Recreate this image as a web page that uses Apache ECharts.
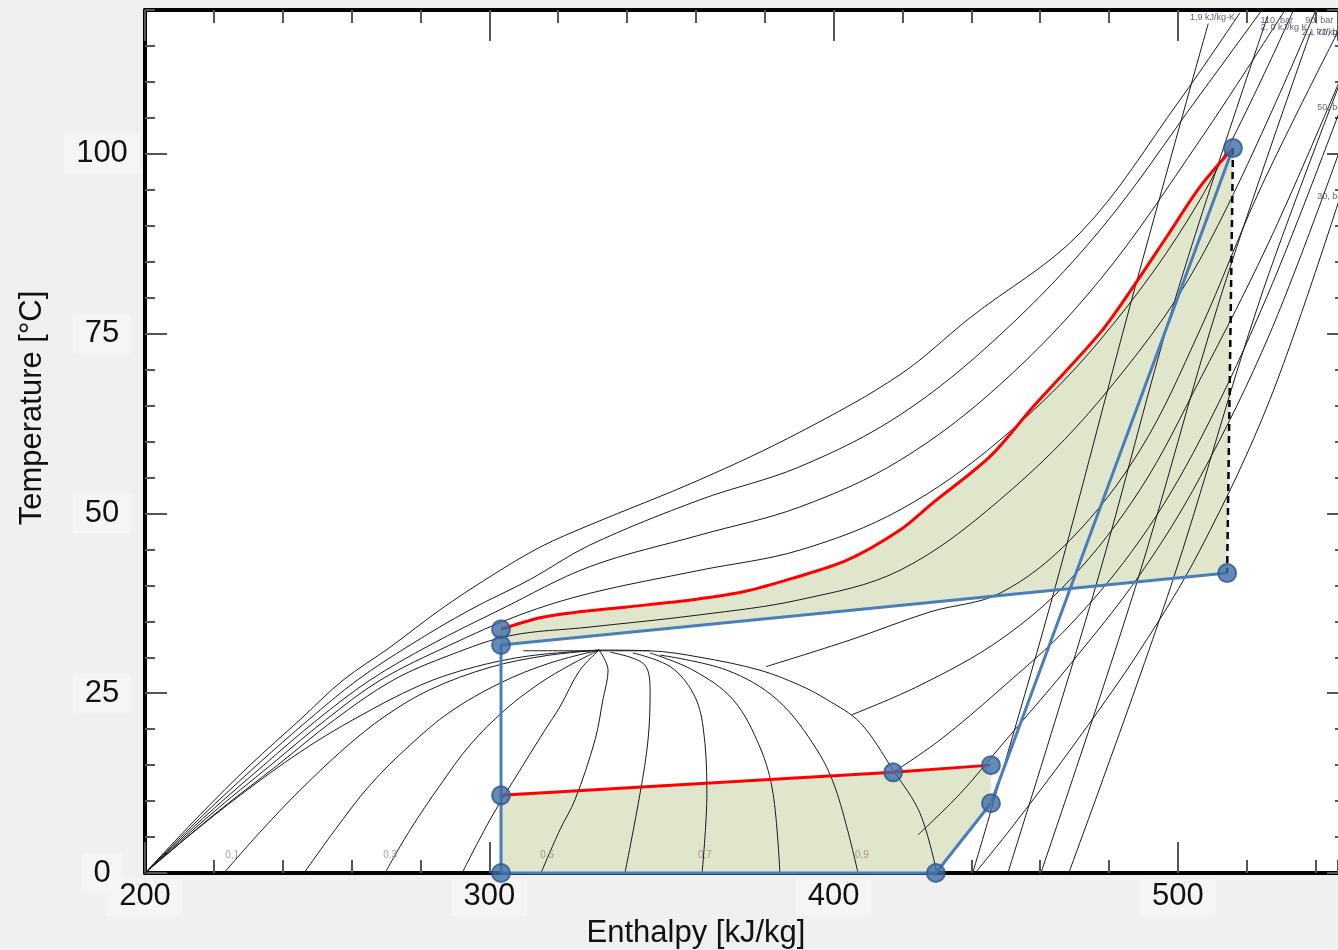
<!DOCTYPE html>
<html><head><meta charset="utf-8">
<script src="https://cdn.jsdelivr.net/npm/echarts/dist/echarts.min.js"></script>
<style>html,body{margin:0;padding:0;background:#f0f0f0}#c{width:1338px;height:950px}</style>
</head><body><div id="c"></div>
<script>
// ---------- axis ticks ----------
const xMin = 200, xMax = 546.5, xMajor = 100, xMinor = 20;
const yMin = 0, yMax = 120, yMajor = 25, yMinor = 5;

// ---------- saturation dome (h kJ/kg, T °C) ----------
const satLiquid = [[200,0],[213.1,5.3],[227.6,10.8],[245.0,16.8],[260.4,21.3],[279.9,26.1],[295.3,28.6],[311.8,30.2],[331.9,31.0]];
const satVapor = [[331.9,31.0],[346.7,30.9],[361.2,30.0],[378.6,28.2],[390.2,26.1],[398.1,24.1],[407.7,20.9],[417.3,14.3],[425.1,8.3],[430.0,0]];
const domeTop = [[309.8,30.9],[346.7,30.9]];

// ---------- quality lines ----------
const q01 = [[222.9,0],[234.0,6.0],[245.0,11.5],[258.1,17.4],[269.7,21.8],[282.8,25.5],[300.2,28.6],[316.2,30.2],[331.9,31.0]];
const q02 = [[246.2,0],[255.2,6.0],[265.3,12.2],[277.0,17.8],[288.6,22.4],[303.1,26.4],[317.6,29.2],[331.9,31.0]];
const q03 = [[269.7,0],[277.0,6.0],[285.7,12.2],[294.4,17.8],[304.6,22.7],[314.7,26.4],[323.4,28.9],[331.9,31.0]];
const q04 = [[292.1,0],[300.2,7.4],[308.9,14.3],[316.2,19.9],[320.5,23.1],[326.3,28.2],[331.9,31.0]];
const q05 = [[315.0,0],[320.5,6.0],[324.9,10.2],[330.7,18.5],[333.0,24.1],[334.5,28.2],[331.9,31.0]];
const q06 = [[339.4,0],[343.8,11.1],[346.1,18.5],[346.7,25.0],[345.2,28.9],[335.1,30.7]];
const q07 = [[361.8,0],[363.2,11.1],[362.1,20.3],[359.2,25.0],[352.5,28.7],[341.7,30.6]];
const q08 = [[384.4,0],[382.4,11.1],[378.6,17.5],[370.8,24.1],[359.2,28.2],[346.7,30.6]];
const q09 = [[407.1,0],[401.0,11.1],[395.2,17.1],[383.6,24.1],[369.0,28.2],[349.6,30.3]];

// ---------- isobars (bar) ----------
const p120 = [[200,0],[216.0,8.1],[230.5,15.0],[245.0,21.3],[257.5,26.8],[271.2,31.4],[285.7,36.6],[300.2,41.2],[314.7,45.3],[329.2,48.4],[361.2,54.7],[390.2,61.3],[419.3,69.3],[439.6,77.2],[471.6,89.0],[500.6,107.5],[518.0,119.6]];
const p110 = [[200,0],[217.0,8.1],[232.5,15.0],[247.5,21.3],[261.6,26.8],[277.0,31.7],[294.4,36.6],[311.8,40.8],[329.2,45.6],[361.2,51.9],[390.2,56.5],[419.3,63.7],[448.3,74.8],[477.4,89.4],[506.4,108.2],[524.4,120]];
const p100 = [[200,0],[218.0,8.1],[234.5,15.0],[250.0,21.3],[265.3,26.8],[282.8,31.7],[303.1,36.6],[329.2,42.6],[361.2,47.0],[390.2,50.9],[419.3,57.4],[448.3,67.9],[477.4,82.5],[506.4,101.9],[531.1,120]];
const p90 = [[200,0],[219.0,8.1],[236.5,15.0],[252.5,21.3],[268.3,26.8],[288.6,31.7],[308.9,35.9],[329.2,38.9],[361.2,42.1],[390.2,44.9],[419.3,50.5],[448.3,60.2],[477.4,74.1],[506.4,93.6],[533.6,120]];
const p80 = [[200,0],[220.0,8.1],[238.5,15.0],[255.0,21.3],[272.0,26.8],[288.6,30.3],[306.0,33.0],[329.2,34.2],[361.2,35.9],[390.2,38.0],[419.3,42.1],[448.3,51.9],[477.4,65.8],[506.4,85.3],[540.1,120]];
const p70 = [[380.4,28.7],[404.8,32.4],[428.0,36.3],[448.3,38.9],[468.7,46.3],[489.0,58.8],[506.4,75.5],[523.8,95.0],[546.5,117.0]];
const p60 = [[405.3,22.0],[425.1,26.1],[448.3,32.4],[468.7,40.8],[489.0,53.3],[506.4,68.6],[526.7,88.0],[547.1,110.3]];
const p50 = [[417.3,14.0],[430.9,18.5],[448.3,25.5],[468.7,34.5],[489.0,46.3],[506.4,60.2],[526.7,81.1],[547.1,106.1]];
const p40 = [[424.5,5.3],[436.7,11.0],[448.3,17.5],[468.7,29.0],[489.0,41.5],[506.4,55.0],[526.7,75.0],[547.1,100.6]];
const p30 = [[441.1,0],[451.2,6.0],[468.7,17.1],[489.0,31.0],[506.4,44.9],[526.7,65.8],[547.1,94.0]];

// ---------- isentropes (kJ/kg-K) ----------
const s19 = [[440.4,0],[450.0,15.7],[464.4,39.8],[486.8,80.1],[508.8,118.1]];
const s20 = [[450.6,0],[476.1,39.8],[499.4,80.1],[526.1,119.2]];
const s21 = [[460.2,0],[487.7,39.8],[512.4,80.1],[538.6,117.0]];
const s22 = [[468.3,0],[497.9,39.8],[524.1,80.1],[548.8,112.0]];

// ---------- cycle ----------
const cycleNames = ['P1','P2','P3','P4','P5','P6','P7','P8','P9','P10'];
const cycleH = [516.0,514.3,303.4,303.4,303.4,303.4,429.7,445.7,445.7,417.3];
const cycleT = [100.8,41.7,31.7,33.9,10.8,0,0,9.7,15.0,14.0];
const gasCooler = [[303.4,33.9],[314.7,35.5],[324.3,36.2],[340.0,37.0],[359.2,38.0],[373.7,39.1],[388.2,41.0],[403.9,43.5],[419.3,47.7],[428.9,51.5],[445.4,57.9],[457.9,64.8],[477.4,75.1],[487.0,81.5],[496.8,88.5],[506.4,95.4],[516.0,100.8]];

// ---------- labels ----------
const qualityLabels = [[225.3,2.5,'0,1'],[271.2,2.5,'0,3'],[316.8,2.5,'0,5'],[362.6,2.5,'0,7'],[408.2,2.5,'0,9']];
const lineLabels = [[503.5,119.0,'1,9 kJ/kg-K'],[524.0,118.6,'110, bar'],[524.0,117.6,'2, 0 kJ/kg K'],[537.0,118.6,'90, bar'],[536.0,116.9,'2,1 kJ/kg K'],[540.5,116.9,'70, bar'],[540.5,106.4,'50, bar'],[540.5,94.0,'30, bar']];

const pt = i => [cycleH[i], cycleT[i]];
const bluePath = [1,2,4,5,6,7,0].map(pt);
const evapLine = [4,9,8].map(pt);
const upperFill = gasCooler.concat([pt(1), pt(2)]);
const lowerFill = [4,9,8,7,6,5].map(pt);

const thin = {color:'#1a1a1a', width:1};
function bg(d){ return {type:'line', data:d, symbol:'none', smooth:0.35, lineStyle:thin, z:3, silent:true, animation:false}; }
function poly(points){
  return {type:'custom', z:1, silent:true, animation:false, clip:true,
    data:[points[0]],
    renderItem:(params, api)=>({type:'polygon', shape:{points:points.map(p=>api.coord(p))}, style:{fill:'#dfe6cb'}})};
}

const font = 'Liberation Sans, Arial, sans-serif';
function xa(pos, interval, len, labels, line){
  return {type:'value', min:xMin, max:xMax, interval, position:pos, gridIndex:0,
    axisLine:{show:line, onZero:false, lineStyle:{color:'#000', width:4}},
    axisTick:{show:true, inside:true, length:len, lineStyle:{color:'#555', width:2}},
    axisLabel:{show:labels, fontSize:31, color:'#111', fontFamily:font, margin:6, showMaxLabel:false,
      backgroundColor:'#f5f5f5', padding:[2,12,4,12]},
    splitLine:{show:false}};
}
function ya(pos, interval, len, labels, line){
  return {type:'value', min:yMin, max:yMax, interval, position:pos, gridIndex:0,
    axisLine:{show:line, onZero:false, lineStyle:{color:'#000', width:4}},
    axisTick:{show:true, inside:true, length:len, lineStyle:{color:'#555', width:2}},
    axisLabel:{show:labels, fontSize:31, color:'#111', fontFamily:font, margin:43, align:'center', showMaxLabel:false,
      backgroundColor:'#f5f5f5', padding:[4,12,4,12]},
    splitLine:{show:false}};
}

const chart = echarts.init(document.getElementById('c'), null, {renderer:'canvas'});
const series = [
  poly(upperFill), poly(lowerFill),
  ...[satLiquid,satVapor,domeTop,q01,q02,q03,q04,q05,q06,q07,q08,q09,p120,p110,p100,p90,p80,p70,p60,p50,p40,p30,s19,s20,s21,s22].map(bg),
  {type:'scatter', data:qualityLabels, symbolSize:0, silent:true, z:4, animation:false,
    label:{show:true, formatter:p=>p.data[2], fontSize:10, color:'#9a8674', fontFamily:font}},
  {type:'scatter', data:lineLabels, symbolSize:0, silent:true, z:4, animation:false,
    label:{show:true, position:'inside', align:'left', formatter:p=>p.data[2], fontSize:9, color:'#3a3a5a', fontFamily:font}},
  {type:'line', data:gasCooler, symbol:'none', smooth:0.3, lineStyle:{color:'#ff0000', width:3}, z:6, animation:false, silent:true},
  {type:'line', data:evapLine, symbol:'none', lineStyle:{color:'#ff0000', width:3}, z:6, animation:false, silent:true},
  {type:'line', data:bluePath, symbol:'none', lineStyle:{color:'#4a7ebb', width:3}, z:5, animation:false, silent:true, clip:false},
  {type:'line', data:[pt(0),pt(1)], symbol:'none', lineStyle:{color:'#000', width:2.5, type:[7,5]}, z:6, animation:false, silent:true},
  {type:'line', data:[pt(8),pt(7)], symbol:'none', lineStyle:{color:'#eeeeee', width:2.5, type:[5,4]}, z:6, animation:false, silent:true},
  {type:'scatter', data:cycleNames.map((n,i)=>pt(i)), symbolSize:18, z:7, clip:false, animation:false, silent:true,
    itemStyle:{color:'#3e6ea8', borderColor:'#2d578c', borderWidth:2}}
];

chart.setOption({
  backgroundColor:'#f0f0f0',
  animation:false,
  grid:{left:145, right:0, top:10, bottom:77, show:true, backgroundColor:'#ffffff', borderWidth:0},
  xAxis:[xa('bottom',xMajor,31,true,true), xa('bottom',xMinor,13,false,false), xa('top',xMajor,31,false,true), xa('top',xMinor,13,false,false)],
  yAxis:[ya('left',yMajor,22,true,true), ya('left',yMinor,10,false,false), ya('right',yMajor,11,false,false), ya('right',yMinor,3,false,false)],
  series,
  graphic:[
    {type:'text', x:696, y:933, style:{text:'Enthalpy [kJ/kg]', font:'31px '+font, fill:'#111', textAlign:'center', textVerticalAlign:'middle'}},
    {type:'text', x:32, y:408, rotation:Math.PI/2, style:{text:'Temperature [°C]', font:'31px '+font, fill:'#111', textAlign:'center', textVerticalAlign:'middle'}}
  ]
});
</script></body></html>
